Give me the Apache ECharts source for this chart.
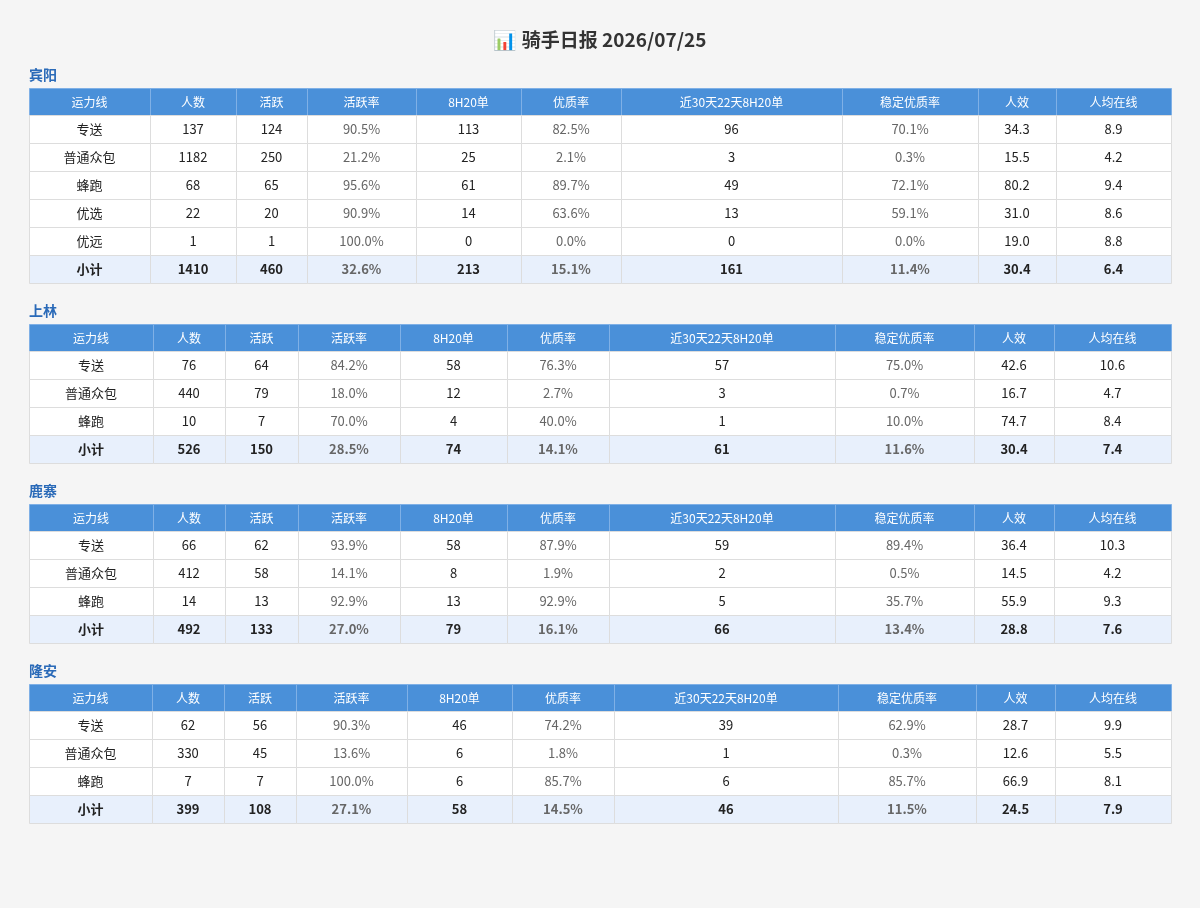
<!DOCTYPE html>
<html>
<head>
<meta charset="utf-8">
<script src="https://cdn.jsdelivr.net/npm/echarts@6/dist/echarts.min.js"></script>
<style>html,body{margin:0;background:#f5f5f5;}#main{width:1200px;height:908px;}</style>
</head>
<body>
<div id="main"></div>
<script>
var titleText = '📊 骑手日报 2026/07/25';
var columns = ['运力线', '人数', '活跃', '活跃率', '8H20单', '优质率', '近30天22天8H20单', '稳定优质率', '人效', '人均在线'];
var regions = ['宾阳', '上林', '鹿寨', '隆安'];

var binyang = [
    ['专送', '137', '124', '90.5%', '113', '82.5%', '96', '70.1%', '34.3', '8.9'],
    ['普通众包', '1182', '250', '21.2%', '25', '2.1%', '3', '0.3%', '15.5', '4.2'],
    ['蜂跑', '68', '65', '95.6%', '61', '89.7%', '49', '72.1%', '80.2', '9.4'],
    ['优选', '22', '20', '90.9%', '14', '63.6%', '13', '59.1%', '31.0', '8.6'],
    ['优远', '1', '1', '100.0%', '0', '0.0%', '0', '0.0%', '19.0', '8.8'],
    ['小计', '1410', '460', '32.6%', '213', '15.1%', '161', '11.4%', '30.4', '6.4']
];
var shanglin = [
    ['专送', '76', '64', '84.2%', '58', '76.3%', '57', '75.0%', '42.6', '10.6'],
    ['普通众包', '440', '79', '18.0%', '12', '2.7%', '3', '0.7%', '16.7', '4.7'],
    ['蜂跑', '10', '7', '70.0%', '4', '40.0%', '1', '10.0%', '74.7', '8.4'],
    ['小计', '526', '150', '28.5%', '74', '14.1%', '61', '11.6%', '30.4', '7.4']
];
var luzhai = [
    ['专送', '66', '62', '93.9%', '58', '87.9%', '59', '89.4%', '36.4', '10.3'],
    ['普通众包', '412', '58', '14.1%', '8', '1.9%', '2', '0.5%', '14.5', '4.2'],
    ['蜂跑', '14', '13', '92.9%', '13', '92.9%', '5', '35.7%', '55.9', '9.3'],
    ['小计', '492', '133', '27.0%', '79', '16.1%', '66', '13.4%', '28.8', '7.6']
];
var longan = [
    ['专送', '62', '56', '90.3%', '46', '74.2%', '39', '62.9%', '28.7', '9.9'],
    ['普通众包', '330', '45', '13.6%', '6', '1.8%', '1', '0.3%', '12.6', '5.5'],
    ['蜂跑', '7', '7', '100.0%', '6', '85.7%', '6', '85.7%', '66.9', '8.1'],
    ['小计', '399', '108', '27.1%', '58', '14.5%', '46', '11.5%', '24.5', '7.9']
];
var tables = [binyang, shanglin, luzhai, longan];

// layout: column borders and vertical positions per table
var colBorders = [
    [29, 150, 236, 307, 416, 521, 621, 842, 978, 1056, 1171],
    [29, 153, 225, 298, 400, 507, 609, 835, 974, 1054, 1171],
    [29, 153, 225, 298, 400, 507, 609, 835, 974, 1054, 1171],
    [29, 152, 224, 296, 407, 512, 614, 838, 976, 1055, 1171]
];
var tableTops = [88, 324, 504, 684];
var headH = 27, rowH = 28;
var pctCols = [3, 5, 7];

var chart = echarts.init(document.getElementById('main'));
var els = [];
els.push({type: 'text', style: {text: titleText, x: 600, y: 40, align: 'center', verticalAlign: 'middle',
    font: 'bold 19px "Noto Sans CJK SC", sans-serif', fill: '#333'}});

tables.forEach(function (rows, t) {
    var xs = colBorders[t], top = tableTops[t];
    els.push({type: 'text', style: {text: regions[t], x: 29, y: top - 13, verticalAlign: 'middle',
        font: 'bold 14px "Noto Sans CJK SC", sans-serif', fill: '#2a6ab8'}});
    var all = [columns].concat(rows);
    all.forEach(function (row, r) {
        var y = r === 0 ? top : top + headH + (r - 1) * rowH;
        var h = r === 0 ? headH : rowH;
        var isHead = r === 0, isSum = r === all.length - 1;
        row.forEach(function (cell, c) {
            var x0 = xs[c], x1 = xs[c + 1];
            els.push({type: 'rect', shape: {x: x0 + 0.5, y: y + 0.5, width: x1 - x0, height: h},
                style: {fill: isHead ? '#4a90d9' : (isSum ? '#e8f0fc' : '#ffffff'), stroke: isHead ? '#7fb0e6' : '#dddddd', lineWidth: 1}});
            var color = isHead ? '#ffffff' : (pctCols.indexOf(c) >= 0 ? '#666666' : '#222222');
            var font = (isSum ? 'bold ' : '') + (isHead ? '12px' : '13px') + ' "Noto Sans CJK SC", sans-serif';
            els.push({type: 'text', style: {text: cell, x: (x0 + x1) / 2, y: y + h / 2 + 0.5, align: 'center', verticalAlign: 'middle',
                font: font, fill: color}});
        });
    });
});

chart.setOption({backgroundColor: '#f5f5f5', graphic: {elements: els}});
</script>
</body>
</html>
